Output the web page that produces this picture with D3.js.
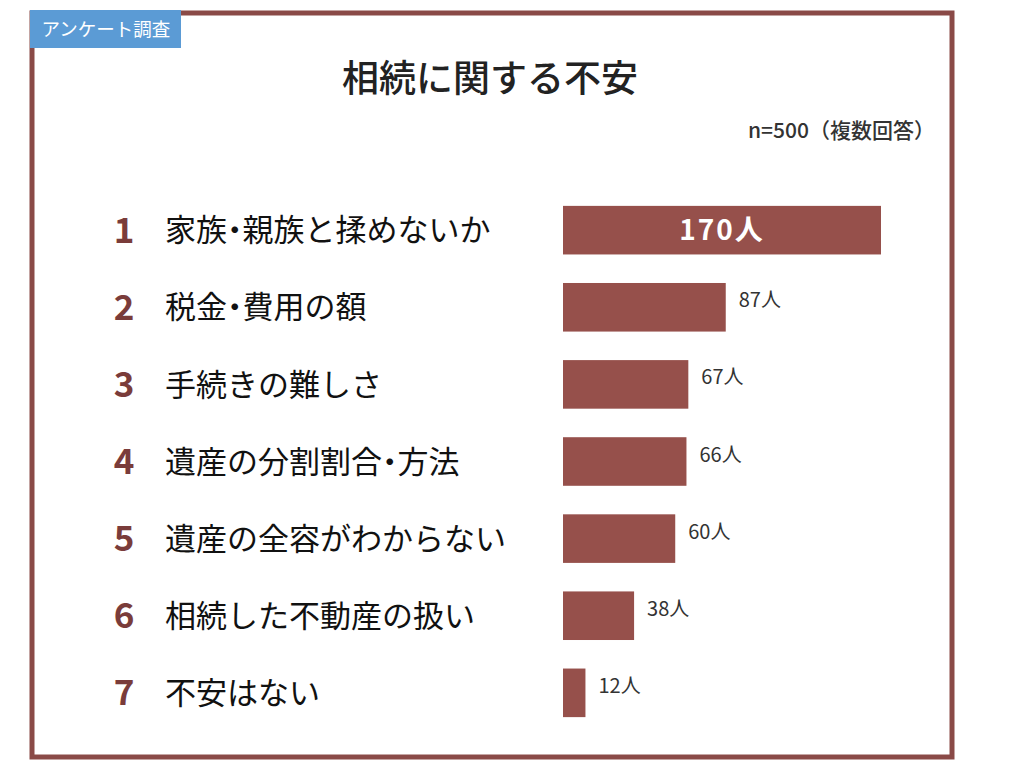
<!DOCTYPE html>
<html>
<head>
<meta charset="utf-8">
<script src="https://cdn.jsdelivr.net/npm/d3@7"></script>
<style>
  body { margin: 0; background: #fff; }
  svg { font-family: "Noto Sans CJK JP", "Noto Sans", sans-serif; }
  .half { font-feature-settings: "halt"; }
</style>
</head>
<body>
<svg width="1024" height="774"></svg>
<script>
const ranks = ["1", "2", "3", "4", "5", "6", "7"];
const categories = ["家族・親族と揉めないか", "税金・費用の額", "手続きの難しさ", "遺産の分割割合・方法",
                    "遺産の全容がわからない", "相続した不動産の扱い", "不安はない"];
const counts = [170, 87, 67, 66, 60, 38, 12];

const svg = d3.select("svg");
const barColor = "#96504b";

// frame
svg.append("rect")
    .attr("x", 32).attr("y", 13)
    .attr("width", 920).attr("height", 744)
    .attr("fill", "none")
    .attr("stroke", "#8a4a47")
    .attr("stroke-width", 5);

// badge
svg.append("rect")
    .attr("x", 30).attr("y", 10)
    .attr("width", 151).attr("height", 38)
    .attr("fill", "#5b9bd5");
svg.append("text")
    .attr("x", 106).attr("y", 36)
    .attr("text-anchor", "middle")
    .attr("fill", "#fff")
    .attr("font-size", 18.5)
    .text("アンケート調査");

// title
svg.append("text")
    .attr("x", 490).attr("y", 92)
    .attr("text-anchor", "middle")
    .attr("font-size", 37)
    .attr("font-weight", 500)
    .attr("fill", "#222")
    .text("相続に関する不安");

svg.append("text")
    .attr("x", 935).attr("y", 138)
    .attr("text-anchor", "end")
    .attr("font-size", 21)
    .attr("font-weight", 500)
    .attr("fill", "#333")
    .text("n=500（複数回答）");

const y = d3.scaleBand()
    .domain(categories)
    .range([192, 731])
    .paddingInner(0.37)
    .paddingOuter(0.18);

const x = d3.scaleLinear()
    .domain([0, 170])
    .range([563, 881]);

const rows = svg.append("g").selectAll("g")
    .data(categories)
    .join("g")
    .attr("transform", d => `translate(0,${y(d) + y.bandwidth() / 2})`);

rows.append("text")
    .attr("x", 124)
    .attr("dy", "0.36em")
    .attr("text-anchor", "middle")
    .attr("font-size", 35)
    .attr("font-weight", 700)
    .attr("fill", "#7a3c3a")
    .text((d, i) => ranks[i]);

// category labels, half-width middle dot
rows.append("text")
    .attr("class", "half")
    .attr("x", 165)
    .attr("dy", "0.36em")
    .attr("font-size", 31)
    .attr("font-weight", 400)
    .attr("fill", "#111")
    .text(d => d);

rows.append("rect")
    .attr("x", x(0))
    .attr("y", -y.bandwidth() / 2)
    .attr("width", (d, i) => x(counts[i]) - x(0))
    .attr("height", y.bandwidth())
    .attr("fill", barColor);

rows.append("text")
    .attr("x", (d, i) => i === 0 ? (x(0) + x(counts[i])) / 2 : x(counts[i]) + 13)
    .attr("dy", (d, i) => i === 0 ? "0.36em" : "0.0em")
    .attr("text-anchor", (d, i) => i === 0 ? "middle" : "start")
    .attr("font-size", (d, i) => i === 0 ? 28 : 20)
    .attr("font-weight", (d, i) => i === 0 ? 700 : 400)
    .attr("fill", (d, i) => i === 0 ? "#fff" : "#333")
    .attr("letter-spacing", (d, i) => i === 0 ? 2 : 0)
    .text((d, i) => counts[i] + "人");
</script>
</body>
</html>
